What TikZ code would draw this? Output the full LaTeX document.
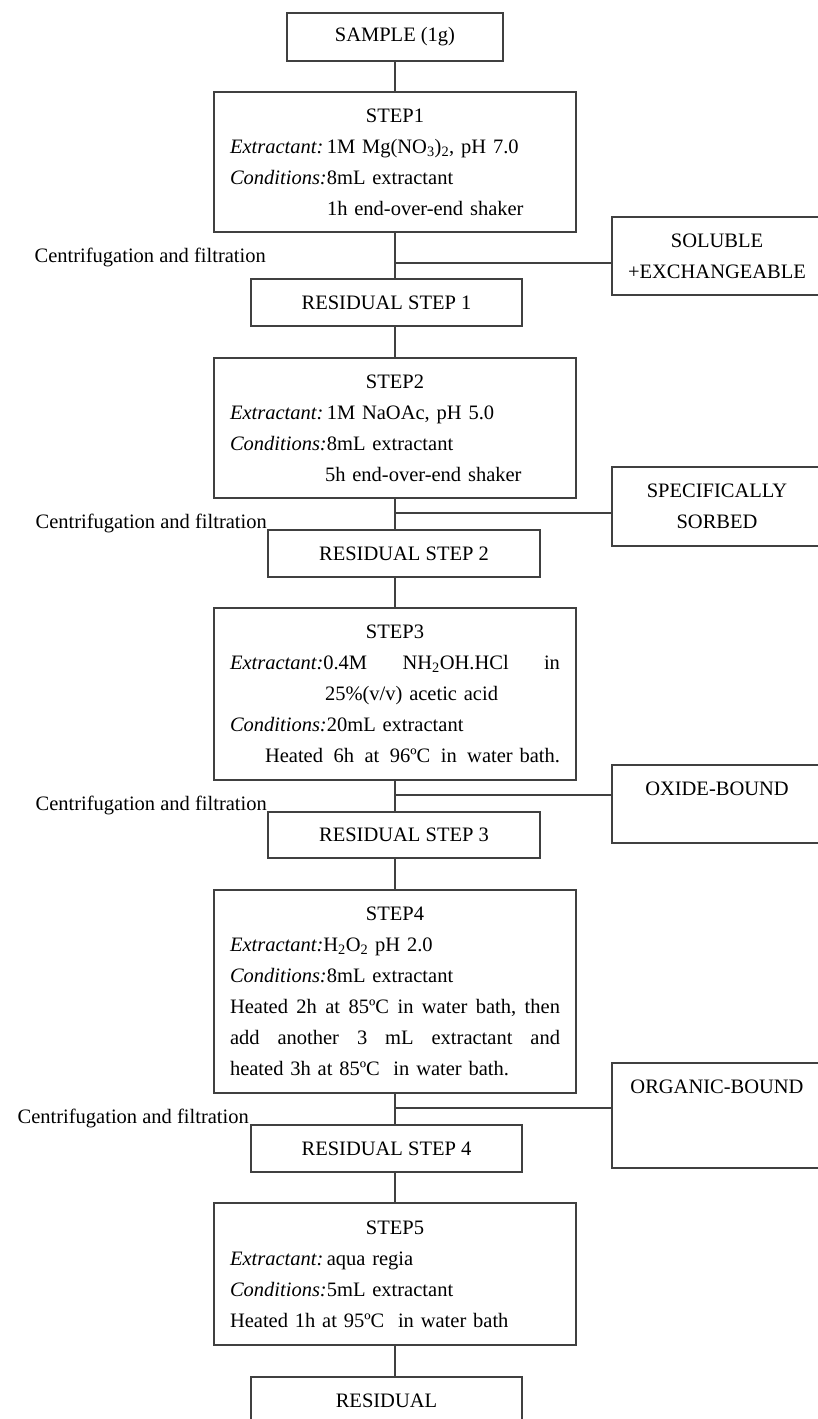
\documentclass[tikz,border=0pt]{standalone}
\usepackage{fontspec}
\setmainfont{Liberation Serif}
\usepackage{tikz}

\begin{document}
\begin{tikzpicture}[x=1pt,y=-1pt,
  font=\fontsize{20.5}{31}\selectfont,
  every node/.style={text=black},
  box/.style={draw=black!75,line width=1.3pt,inner sep=0pt,align=center},
  resbox/.style={box,minimum width=271pt,minimum height=47pt},
  stepbox/.style={box,text width=330pt,inner xsep=16pt,align=left,minimum height=#1},
  sidebox/.style={box,minimum width=210pt,minimum height=#1},
  lbl/.style={anchor=east,inner sep=0pt},
  link/.style={draw=black!75,line width=1.3pt}]
  \useasboundingbox (0,0) rectangle (818,1419);

  % main column
  \node[box,minimum width=216pt,minimum height=48pt] (sample) at (395,37) {SAMPLE (1g)};
  \node[stepbox=140pt] (step1) at (395,162) {\makebox[330pt]{STEP1}\\
    \textit{Extractant:}\,1M Mg(NO\textsubscript{3})\textsubscript{2}, pH 7.0\\
    \textit{Conditions:}8mL extractant\\
    \hspace*{97pt}1h end-over-end shaker};
  \node[resbox] (res1) at (386.5,302.5) {RESIDUAL STEP 1};
  \node[stepbox=140pt] (step2) at (395,428) {\makebox[330pt]{STEP2}\\
    \textit{Extractant:}\,1M NaOAc, pH 5.0\\
    \textit{Conditions:}8mL extractant\\
    \hspace*{95pt}5h end-over-end shaker};
  \node[resbox,minimum width=272pt] (res2) at (404,553.5) {RESIDUAL STEP 2};
  \node[stepbox=172pt] (step3) at (395,694) {\makebox[330pt]{STEP3}\\
    \makebox[330pt][s]{\textit{Extractant:}0.4M\hfill NH\textsubscript{2}OH.HCl\hfill in}\\
    \hspace*{95pt}25\%(v/v) acetic acid\\
    \textit{Conditions:}20mL extractant\\
    \hspace*{35pt}\makebox[295pt][s]{Heated\hfill 6h\hfill at\hfill 96ºC\hfill in\hfill water bath.}};
  \node[resbox,minimum width=272pt,minimum height=46pt] (res3) at (404,835) {RESIDUAL STEP 3};
  \node[stepbox=203pt] (step4) at (395,991.5) {\makebox[330pt]{STEP4}\\
    \textit{Extractant:}H\textsubscript{2}O\textsubscript{2} pH 2.0\\
    \textit{Conditions:}8mL extractant\\
    \makebox[330pt][s]{Heated\hfill 2h\hfill at\hfill 85ºC\hfill in\hfill water\hfill bath,\hfill then}\\
    \makebox[330pt][s]{add\hfill another\hfill 3\hfill mL\hfill extractant\hfill and}\\
    heated 3h at 85ºC\ \ in water bath.};
  \node[resbox] (res4) at (386.5,1148.5) {RESIDUAL STEP 4};
  \node[stepbox=142pt] (step5) at (395,1274) {\makebox[330pt]{STEP5}\\
    \textit{Extractant:}\,aqua regia\\
    \textit{Conditions:}5mL extractant\\
    Heated 1h at 95ºC\ \ in water bath};
  \node[resbox] (resid) at (386.5,1400.5) {RESIDUAL};

  % fractions
  \node[sidebox=78pt] (sol) at (717,256) {SOLUBLE\\+EXCHANGEABLE};
  \node[sidebox=79pt] (spec) at (717,506.5) {SPECIFICALLY\\SORBED};
  \node[sidebox=78pt] (oxide) at (717,804) {};
  \node (oxidetxt) at ([yshift=-24pt]oxide.north) {OXIDE-BOUND};
  \node[sidebox=105pt] (org) at (717,1115.5) {};
  \node (orgtxt) at ([yshift=-24pt]org.north) {ORGANIC-BOUND};

  \node[lbl] (cf1) at (266,257) {Centrifugation and filtration};
  \node[lbl] (cf2) at (267,523) {Centrifugation and filtration};
  \node[lbl] (cf3) at (267,805) {Centrifugation and filtration};
  \node[lbl] (cf4) at (249,1118) {Centrifugation and filtration};

  \coordinate (b1) at (395,263);
  \coordinate (b2) at (395,513);
  \coordinate (b3) at (395,795);
  \coordinate (b4) at (395,1108);

  % connectors
  \draw[link] (sample) -- (step1);
  \draw[link] (step1.south) -- (step1.south |- res1.north);
  \draw[link] (b1) -- (b1 -| sol.west);
  \draw[link] (res1.south -| step2.north) -- (step2.north);
  \draw[link] (step2.south) -- (step2.south |- res2.north);
  \draw[link] (b2) -- (b2 -| spec.west);
  \draw[link] (res2.south -| step3.north) -- (step3.north);
  \draw[link] (step3.south) -- (step3.south |- res3.north);
  \draw[link] (b3) -- (b3 -| oxide.west);
  \draw[link] (res3.south -| step4.north) -- (step4.north);
  \draw[link] (step4.south) -- (step4.south |- res4.north);
  \draw[link] (b4) -- (b4 -| org.west);
  \draw[link] (res4.south -| step5.north) -- (step5.north);
  \draw[link] (step5.south) -- (step5.south |- resid.north);
\end{tikzpicture}
\end{document}
